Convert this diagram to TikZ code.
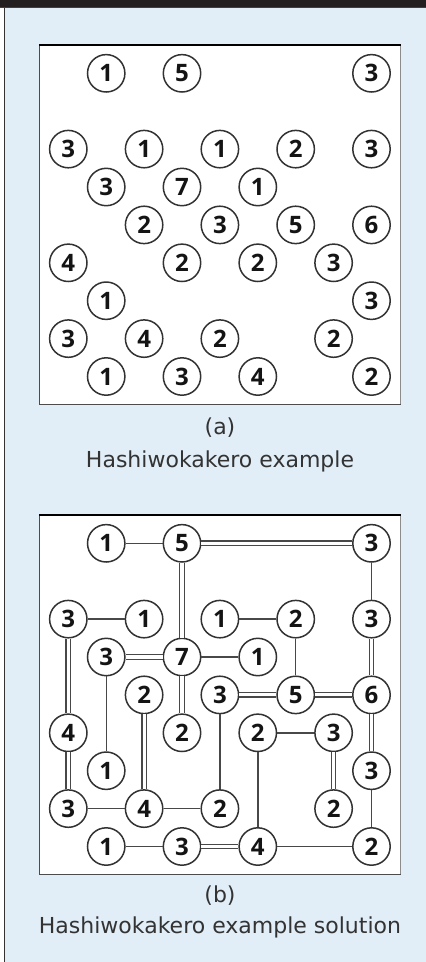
\documentclass[tikz,border=0pt]{standalone}
\usepackage{fontspec}
\setmainfont{DejaVu Sans}
\newfontfamily\digitfont{Open Sans}[UprightFont={* Bold}]
\definecolor{panelblue}{RGB}{225,237,247}
\definecolor{barblack}{RGB}{35,31,32}
\definecolor{ringgray}{RGB}{50,50,50}
\definecolor{bridgegray}{RGB}{72,72,72}
\definecolor{captiongray}{RGB}{51,51,51}
\tikzset{
  isl/.style={circle, draw=ringgray, line width=1.5pt, fill=white, minimum size=37.4pt, inner sep=0pt,
    font=\digitfont\fontsize{24}{24}\selectfont, text=black!92},
  single/.style={draw=bridgegray, line width=1.4pt},
  dbl/.style={draw=bridgegray, line width=1.3pt, double=white, double distance=3.1pt},
  caption/.style={anchor=base, text=captiongray, font=\fontsize{22}{26}\selectfont}
}
\begin{document}
\begin{tikzpicture}[x=1pt,y=-1pt]
\useasboundingbox (0,0) rectangle (426,962);
% background
\fill[white] (0,0) rectangle (426,962);
\fill[panelblue] (4.5,7.5) rectangle (426,962);
\fill[barblack] (0,0) rectangle (426,7.3);
\draw[black!75, line width=0.8pt] (0,7.6) -- (426,7.6);
\draw[black!80, line width=1pt] (4,7.5) -- (4,962);
% boxes
\foreach \yo/\nm in {0/a,470/b}{
  \fill[white] (39.5,45+\yo) rectangle (400.5,404+\yo);
  \draw[black!45, line width=0.8pt] (400.5,45+\yo) -- (400.5,404+\yo);
  \draw[black!70, line width=1pt] (39.5,45+\yo) -- (39.5,404+\yo) -- (400.5,404+\yo);
  \draw[black, line width=1.3pt] (39,45+\yo) -- (401,45+\yo);
}
% islands
\foreach \yo/\nm in {0/a,470/b}{
  \foreach \r/\c/\n in {0/1/1,0/3/5,0/8/3,
    2/0/3,2/2/1,2/4/1,2/6/2,2/8/3,
    3/1/3,3/3/7,3/5/1,
    4/2/2,4/4/3,4/6/5,4/8/6,
    5/0/4,5/3/2,5/5/2,5/7/3,
    6/1/1,6/8/3,
    7/0/3,7/2/4,7/4/2,7/7/2,
    8/1/1,8/3/3,8/5/4,8/8/2}{
    \node[isl] (\nm\r\c) at ({68.3+37.9*\c},{73.3+37.9*\r+\yo}) {\n};
  }
}
% bridges of the solution
\foreach \p/\q in {b01/b03,b08/b28,b20/b22,b24/b26,b31/b61,b26/b46,b33/b35,b44/b74,
  b55/b57,b55/b85,b68/b88,b70/b72,b72/b74,b81/b83,b85/b88}{
  \draw[single] (\p) -- (\q);
}
\foreach \p/\q in {b03/b08,b03/b33,b20/b50,b28/b48,b31/b33,b33/b53,b42/b72,b44/b46,
  b46/b48,b48/b68,b57/b77,b50/b70,b83/b85}{
  \draw[dbl] (\p) -- (\q);
}
% captions
\node[caption] (capa) at (220,434) {(a)};
\node[caption] (capta) at (220,467) {Hashiwokakero example};
\node[caption] (capb) at (220,902) {(b)};
\node[caption] (captb) at (220,933) {Hashiwokakero example solution};
\end{tikzpicture}
\end{document}
